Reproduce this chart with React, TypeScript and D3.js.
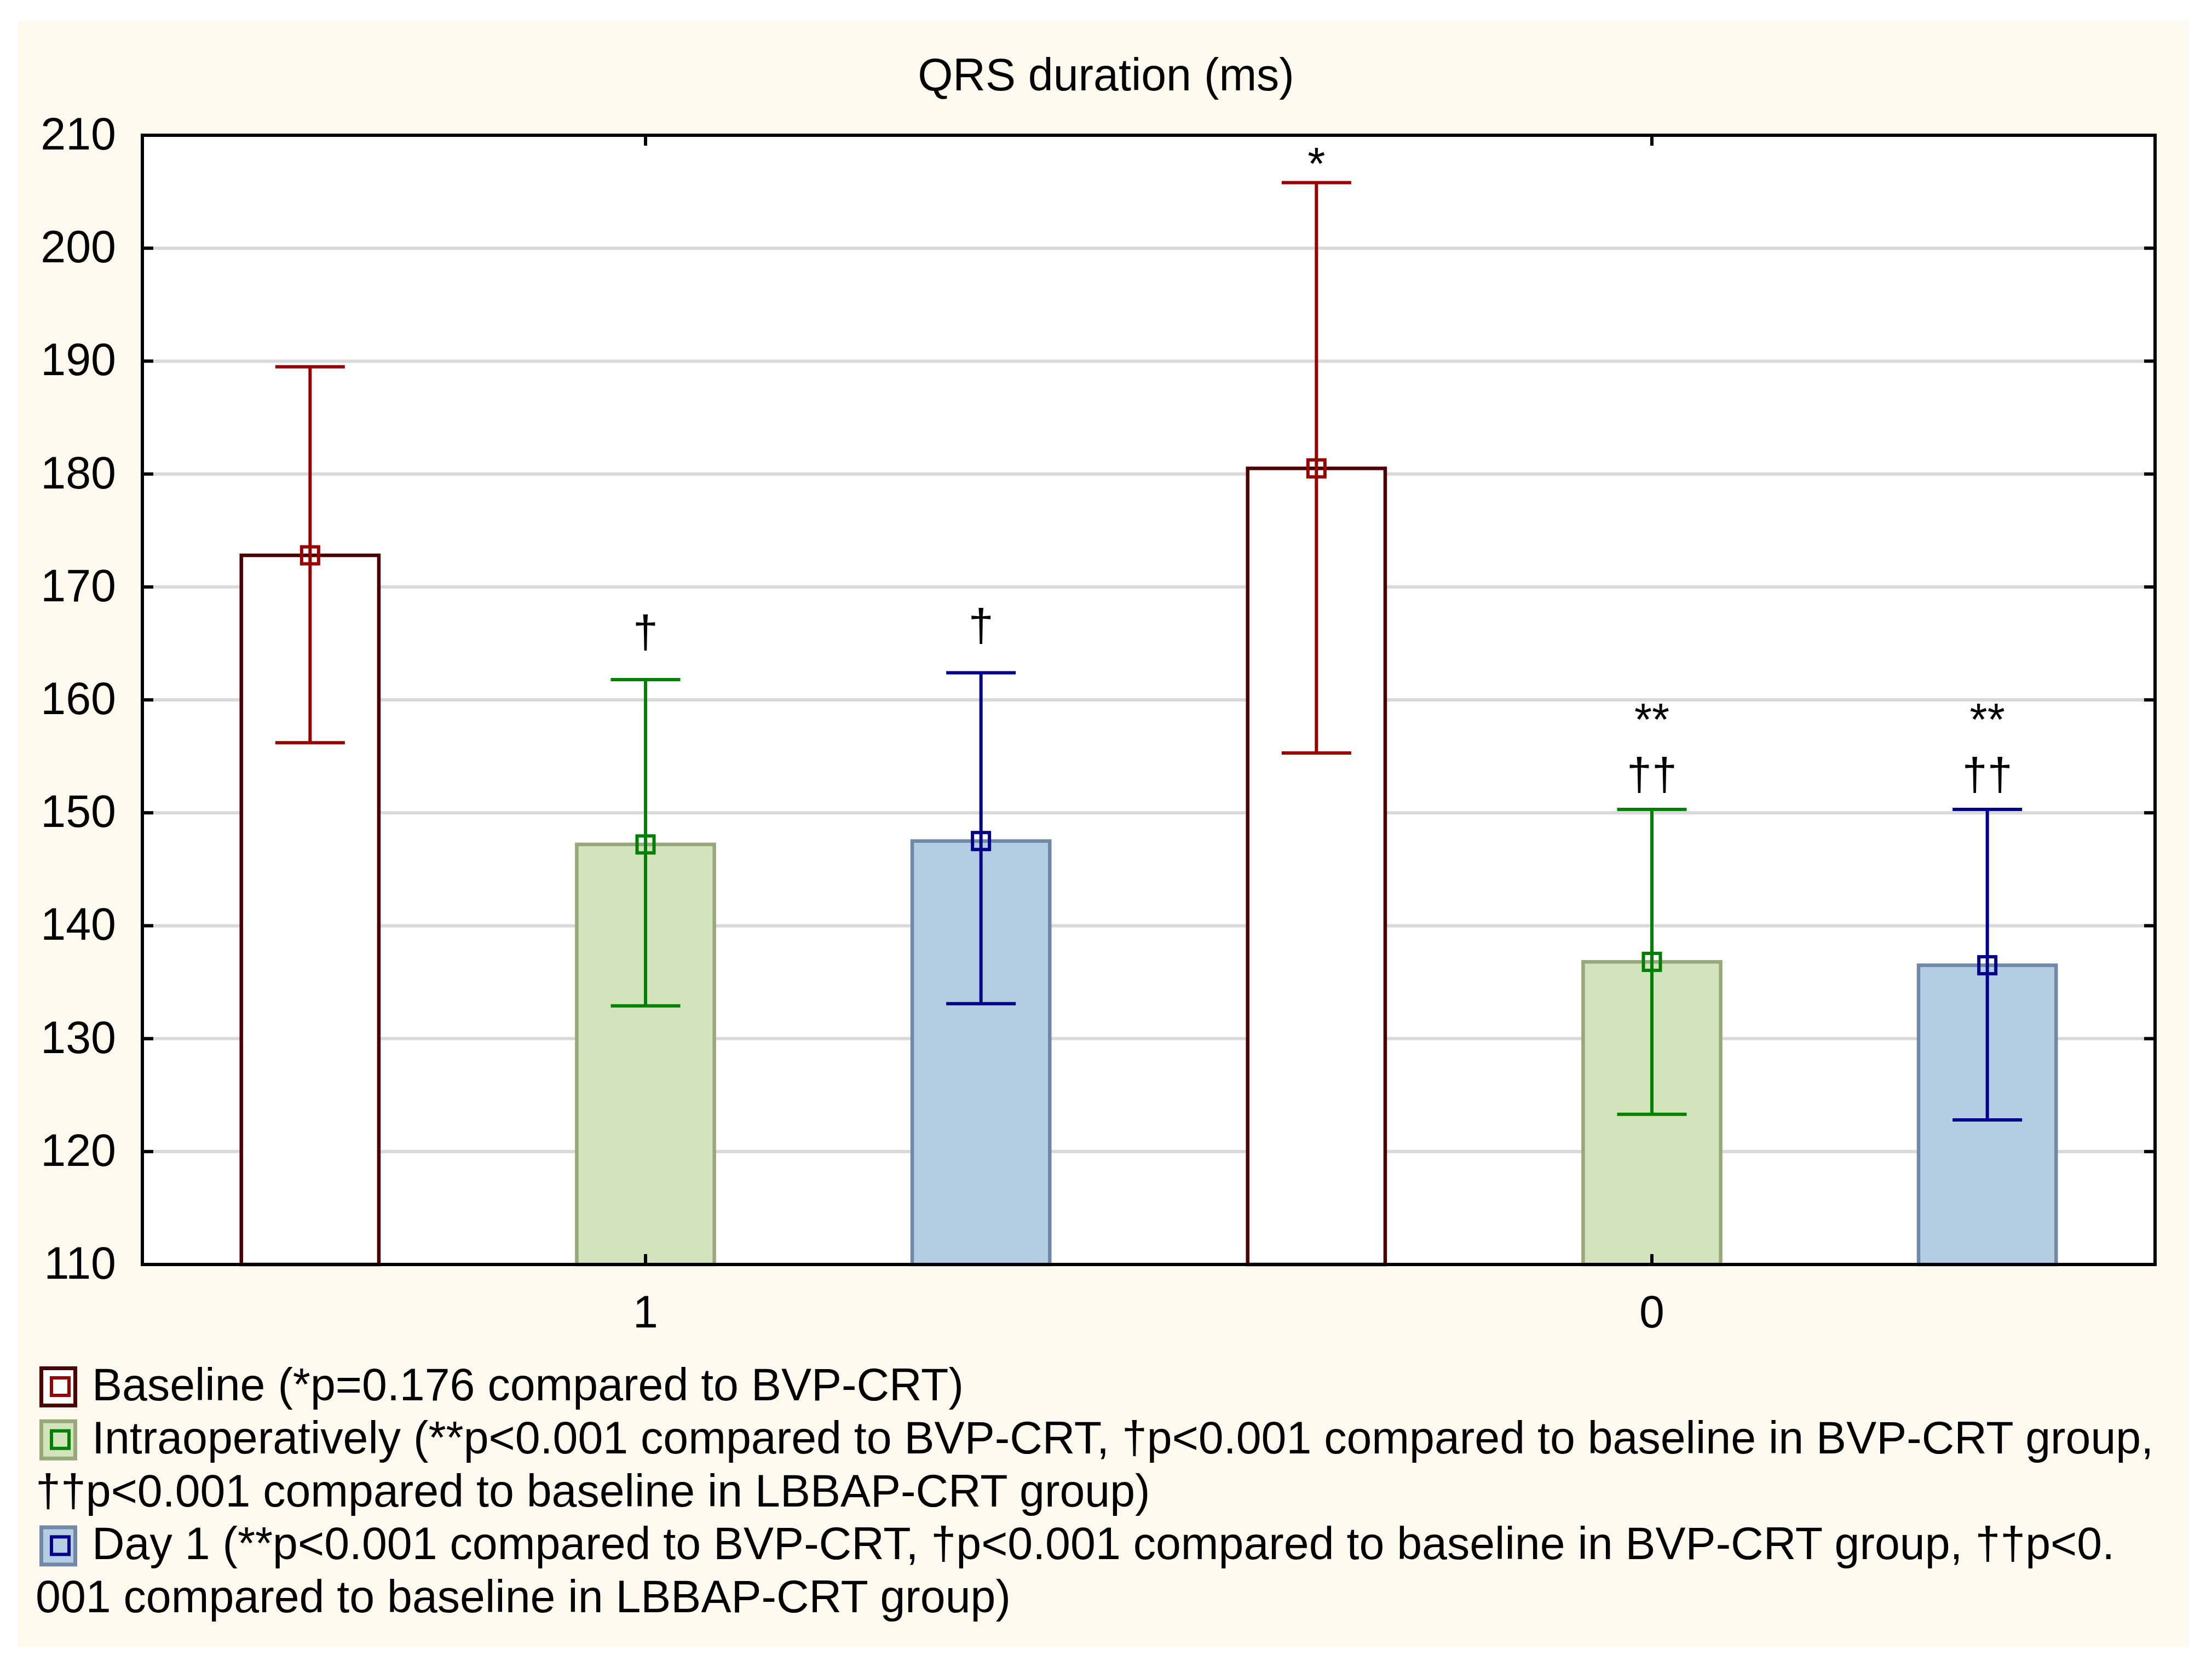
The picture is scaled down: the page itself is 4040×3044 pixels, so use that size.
import * as d3 from "d3";

// Groups on the x axis and the three measurement phases
const groups = ["1", "0"];
const phases = ["Baseline", "Intraoperatively", "Day 1"];

// Means and 95% CI per phase, ordered as groups
const baselineMean = [172.8, 180.5];
const baselineLow = [156.2, 155.3];
const baselineHigh = [189.5, 205.8];
const intraMean = [147.2, 136.8];
const intraLow = [132.9, 123.3];
const intraHigh = [161.8, 150.3];
const day1Mean = [147.5, 136.5];
const day1Low = [133.1, 122.8];
const day1High = [162.4, 150.3];

// Significance marks above each bar (top line first)
const marksGroup1 = [[], ["†"], ["†"]];
const marksGroup0 = [["*"], ["**", "††"], ["**", "††"]];

const yTicks = [110, 120, 130, 140, 150, 160, 170, 180, 190, 200, 210];
const title = "QRS duration (ms)";

const legendLines = [
  ["Baseline (*p=0.176 compared to BVP-CRT)"],
  [
    "Intraoperatively (**p<0.001 compared to BVP-CRT, †p<0.001 compared to baseline in BVP-CRT group,",
    "††p<0.001 compared to baseline in LBBAP-CRT group)",
  ],
  [
    "Day 1 (**p<0.001 compared to BVP-CRT, †p<0.001 compared to baseline in BVP-CRT group, ††p<0.",
    "001 compared to baseline in LBBAP-CRT group)",
  ],
];

const styles: Record<string, { fill: string; stroke: string; err: string; box: string }> = {
  Baseline: { fill: "#ffffff", stroke: "#4d0000", err: "#990000", box: "#4d0000" },
  Intraoperatively: { fill: "#d3e3bc", stroke: "#97a87b", err: "#008000", box: "#97a87b" },
  "Day 1": { fill: "#b3cde3", stroke: "#7189a6", err: "#00008b", box: "#7189a6" },
};

const FONT = "'Liberation Sans', Arial, sans-serif";
const FS = 82.5;

export default function App() {
  const W = 4040;
  const H = 3044;
  const plot = { left: 260, right: 3936, top: 247, bottom: 2309 };

  const means = [baselineMean, intraMean, day1Mean];
  const lows = [baselineLow, intraLow, day1Low];
  const highs = [baselineHigh, intraHigh, day1High];
  const marks = [marksGroup1, marksGroup0];

  const rows = groups.flatMap((g, gi) =>
    phases.map((p, pi) => ({
      key: `${g}|${p}`,
      group: g,
      phase: p,
      mean: means[pi][gi],
      low: lows[pi][gi],
      high: highs[pi][gi],
      marks: marks[gi][pi],
    }))
  );

  const x = d3
    .scaleBand<string>()
    .domain(rows.map((d) => d.key))
    .range([plot.left, plot.right]);
  const y = d3.scaleLinear().domain([110, 210]).range([plot.bottom, plot.top]);

  const barW = x.bandwidth() * 0.41;
  const capW = 127;
  const cx = (k: string) => (x(k) || 0) + x.bandwidth() / 2;
  const groupX = (g: string) => cx(`${g}|${phases[1]}`);

  // legend baselines
  const legendTop = 2557;
  const lineH = 96.8;
  let lineIdx = 0;

  return (
    <svg
      width={W}
      height={H}
      style={{ position: "absolute", left: 0, top: 0, display: "block" }}
      fontFamily={FONT}
    >
      <rect x={0} y={0} width={W} height={H} fill="#ffffff" />
      <rect x={33} y={38} width={3964} height={2970} fill="#fef9ee" />
      <rect
        x={plot.left}
        y={plot.top}
        width={plot.right - plot.left}
        height={plot.bottom - plot.top}
        fill="#ffffff"
      />

      {/* grid */}
      {yTicks.slice(1, -1).map((t) => (
        <line
          key={`g${t}`}
          x1={plot.left}
          x2={plot.right}
          y1={y(t)}
          y2={y(t)}
          stroke="#d9d9d9"
          strokeWidth={6}
        />
      ))}

      {/* bars */}
      {rows.map((d) => (
        <rect
          key={`b${d.key}`}
          x={cx(d.key) - barW / 2}
          y={y(d.mean)}
          width={barW}
          height={y(110) - y(d.mean)}
          fill={styles[d.phase].fill}
          stroke={styles[d.phase].stroke}
          strokeWidth={6.5}
        />
      ))}

      {/* error bars + mean markers */}
      {rows.map((d) => {
        const c = cx(d.key);
        const col = styles[d.phase].err;
        return (
          <g key={`e${d.key}`} stroke={col} strokeWidth={6} fill="none">
            <line x1={c} x2={c} y1={y(d.high)} y2={y(d.low)} />
            <line x1={c - capW / 2} x2={c + capW / 2} y1={y(d.high)} y2={y(d.high)} />
            <line x1={c - capW / 2} x2={c + capW / 2} y1={y(d.low)} y2={y(d.low)} />
            <rect x={c - 15.5} y={y(d.mean) - 15.5} width={31} height={31} />
          </g>
        );
      })}

      {/* significance marks */}
      {rows.map((d) => {
        const capY = y(d.high);
        const n = d.marks.length;
        if (n === 0) return null;
        const bottomBase =
          n === 1 ? (d.marks[0].includes("†") ? capY - 58 : capY - 6) : capY - 35;
        return d.marks.map((m, i) => (
          <text
            key={`m${d.key}${i}`}
            x={cx(d.key)}
            y={bottomBase - (n - 1 - i) * 100}
            textAnchor="middle"
            fontSize={FS}
            fill="#000"
          >
            {m}
          </text>
        ));
      })}

      {/* frame */}
      <rect
        x={plot.left}
        y={plot.top}
        width={plot.right - plot.left}
        height={plot.bottom - plot.top}
        fill="none"
        stroke="#000"
        strokeWidth={6}
      />

      {/* y ticks and labels */}
      {yTicks.map((t) => (
        <g key={`yt${t}`}>
          <line x1={plot.left} x2={plot.left + 20} y1={y(t)} y2={y(t)} stroke="#000" strokeWidth={6} />
          <line x1={plot.right - 20} x2={plot.right} y1={y(t)} y2={y(t)} stroke="#000" strokeWidth={6} />
          <text x={212} y={y(t) + 26} textAnchor="end" fontSize={FS} fill="#000">
            {t}
          </text>
        </g>
      ))}

      {/* x ticks and labels */}
      {groups.map((g) => (
        <g key={`xt${g}`}>
          <line x1={groupX(g)} x2={groupX(g)} y1={plot.bottom} y2={plot.bottom - 19} stroke="#000" strokeWidth={6} />
          <line x1={groupX(g)} x2={groupX(g)} y1={plot.top} y2={plot.top + 19} stroke="#000" strokeWidth={6} />
          <text x={groupX(g)} y={2424} textAnchor="middle" fontSize={FS} fill="#000">
            {g}
          </text>
        </g>
      ))}

      {/* title */}
      <text x={2020} y={165} textAnchor="middle" fontSize={FS} fill="#000">
        {title}
      </text>

      {/* legend */}
      {phases.map((p, pi) => {
        const st = styles[p];
        const firstBase = legendTop + lineIdx * lineH;
        const items = legendLines[pi].map((ln, li) => {
          const base = legendTop + lineIdx * lineH;
          lineIdx += 1;
          return (
            <text key={`l${pi}${li}`} x={li === 0 ? 168 : 65} y={base} fontSize={FS} fill="#000">
              {ln}
            </text>
          );
        });
        return (
          <g key={`lg${p}`}>
            <rect
              x={75.5}
              y={firstBase - 58.5}
              width={62}
              height={68}
              fill={st.fill}
              stroke={st.box}
              strokeWidth={7}
            />
            <rect
              x={94}
              y={firstBase - 41}
              width={32}
              height={32}
              fill="none"
              stroke={st.err}
              strokeWidth={6}
            />
            {items}
          </g>
        );
      })}
    </svg>
  );
}
